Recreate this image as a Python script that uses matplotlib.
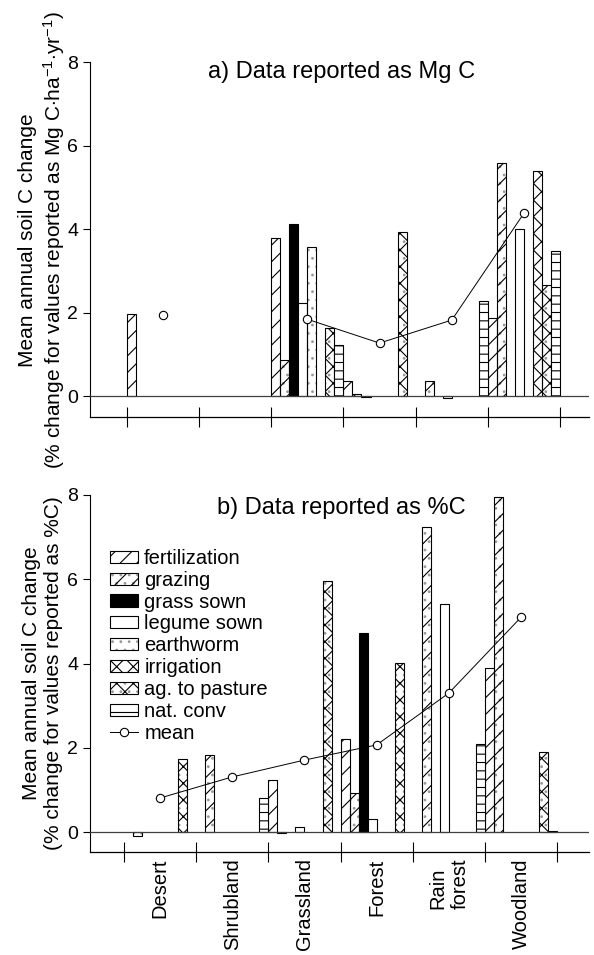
import numpy as np
import matplotlib
matplotlib.use('Agg')
import matplotlib.pyplot as plt
from matplotlib.patches import Patch
from matplotlib.lines import Line2D
from matplotlib.legend_handler import HandlerTuple

plt.rcParams['font.family'] = ['Liberation Sans', 'DejaVu Sans']
plt.rcParams['mathtext.fontset'] = 'custom'
plt.rcParams['mathtext.rm'] = 'Liberation Sans'
plt.rcParams['mathtext.it'] = 'Liberation Sans:italic'
plt.rcParams['hatch.linewidth'] = 0.8

nan = np.nan

biomes = ['Desert', 'Shrubland', 'Grassland', 'Forest', 'Rain\nforest', 'Woodland']
treatments = ['fertilization', 'grazing', 'grass sown', 'legume sown',
              'earthworm', 'irrigation', 'ag. to pasture', 'nat. conv']

# a) values reported as Mg C (per biome, in the order of `biomes`)
mgc_fertilization = [1.97, nan, 3.78, 0.35, nan, 1.87]
mgc_grazing       = [nan, nan, 0.86, 0.06, 0.36, 5.58]
mgc_grass_sown    = [nan, nan, 4.12, -0.02, nan, nan]
mgc_legume_sown   = [nan, nan, 2.23, nan, -0.04, 4.00]
mgc_earthworm     = [nan, nan, 3.57, nan, nan, nan]
mgc_irrigation    = [nan, nan, nan, nan, nan, 5.40]
mgc_ag_pasture    = [nan, nan, 1.64, 3.93, nan, 2.65]
mgc_nat_conv      = [nan, nan, 1.22, nan, 2.27, 3.47]
mgc_mean          = [1.95, nan, 1.84, 1.27, 1.82, 4.38]

# b) values reported as %C
pct_fertilization = [nan, nan, 1.24, 2.21, nan, 3.90]
pct_grazing       = [-0.10, 1.83, -0.03, 0.93, 7.24, 7.95]
pct_grass_sown    = [nan, nan, nan, 4.73, nan, nan]
pct_legume_sown   = [nan, nan, 0.12, 0.31, 5.41, nan]
pct_earthworm     = [nan, nan, nan, nan, nan, nan]
pct_irrigation    = [nan, nan, nan, nan, nan, nan]
pct_ag_pasture    = [1.73, nan, 5.96, 4.01, nan, 1.90]
pct_nat_conv      = [nan, 0.81, nan, nan, 2.09, 0.03]
pct_mean          = [0.81, 1.31, 1.71, 2.07, 3.30, 5.10]

# face colour, hatch, grey speckles
styles = [('white', '//', False),
          ('white', '//', True),
          ('black', None, False),
          ('white', None, False),
          ('white', None, True),
          ('white', 'xx', False),
          ('white', 'xx', True),
          ('white', '--', False)]

SPECK = '0.6'


def draw_panel(ax, series, means):
    x0 = np.arange(len(biomes))
    w = 1.0 / len(treatments)
    for j, vals in enumerate(series):
        face, hatch, dots = styles[j]
        vals = np.array(vals, float)
        ok = ~np.isnan(vals)
        if not ok.any():
            continue
        xs = x0[ok] + j * w
        if dots:
            ax.bar(xs, vals[ok], w, align='edge', color='white',
                   edgecolor=SPECK, hatch='..', lw=0, zorder=2)
            face = 'none'
        ax.bar(xs, vals[ok], w, align='edge', facecolor=face,
               edgecolor='black', hatch=hatch, lw=0.8, zorder=3)
    ax.axhline(0, color='0.25', lw=0.9, zorder=4)
    ax.plot(x0 + 0.5, means, '-o', color='black', lw=0.7, ms=6,
            mfc='white', mec='black', mew=0.8, zorder=5)

    for s in ['top', 'right']:
        ax.spines[s].set_visible(False)
    ax.spines['left'].set_linewidth(0.8)
    ax.spines['bottom'].set_linewidth(0.9)
    ax.set_yticks([0, 2, 4, 6, 8])
    ax.tick_params(axis='y', labelsize=14, length=5, width=0.8, direction='out')
    ax.set_xticks(np.arange(len(biomes) + 1))
    ax.tick_params(axis='x', labelbottom=False, length=14, width=0.8,
                   direction='inout')


fig = plt.figure(figsize=(5.94, 9.55), dpi=100)
ax1 = fig.add_axes([0.1515, 0.5634, 0.84, 0.3716])
ax2 = fig.add_axes([0.1515, 0.1079, 0.84, 0.3738])

draw_panel(ax1, [mgc_fertilization, mgc_grazing, mgc_grass_sown, mgc_legume_sown,
                 mgc_earthworm, mgc_irrigation, mgc_ag_pasture, mgc_nat_conv],
           mgc_mean)
draw_panel(ax2, [pct_fertilization, pct_grazing, pct_grass_sown, pct_legume_sown,
                 pct_earthworm, pct_irrigation, pct_ag_pasture, pct_nat_conv],
           pct_mean)

ax1.set_xlim(-0.51, 6.4)
ax1.set_ylim(-0.5, 8)
ax2.set_xlim(-0.47, 6.44)
ax2.set_ylim(-0.47, 8)

fig.text(0.575, 0.9246, 'a) Data reported as Mg C', ha='center', va='center',
         fontsize=17)
fig.text(0.575, 0.468, 'b) Data reported as %C', ha='center', va='center',
         fontsize=17)

fig.text(0.072, 0.749,
         'Mean annual soil C change\n'
         r'(% change for values reported as Mg C$\cdot$ha$^{-1}$$\cdot$yr$^{-1}$)',
         rotation=90, ha='center', va='center', fontsize=15, multialignment='center')
fig.text(0.072, 0.295,
         'Mean annual soil C change\n(% change for values reported as %C)',
         rotation=90, ha='center', va='center', fontsize=15, multialignment='center')

# biome labels under the lower panel
for i, name in enumerate(biomes):
    ax2.text(i + 0.5, -0.018, name, rotation=90,
             transform=ax2.get_xaxis_transform(), ha='center', va='top',
             fontsize=14.5, multialignment='left', clip_on=False)

# legend
handles = []
for face, hatch, dots in styles:
    top = Patch(facecolor='none' if dots else face, edgecolor='black',
                hatch=hatch, lw=0.8)
    if dots:
        under = Patch(facecolor='white', edgecolor=SPECK, hatch='..', lw=0)
        handles.append((under, top))
    else:
        handles.append(top)
handles.append(Line2D([], [], color='black', lw=0.7, marker='o', ms=6,
                      mfc='white', mec='black', mew=0.8))
labels = treatments + ['mean']
fig.legend(handles, labels, loc='upper left',
           bbox_to_anchor=(110 / 594, 1 - 549 / 955), frameon=False,
           fontsize=14.5, labelspacing=0.14, handlelength=1.4,
           handleheight=0.55, handletextpad=0.3, borderpad=0,
           borderaxespad=0, handler_map={tuple: HandlerTuple(ndivide=1)})

fig.savefig('out.png', dpi=100)
